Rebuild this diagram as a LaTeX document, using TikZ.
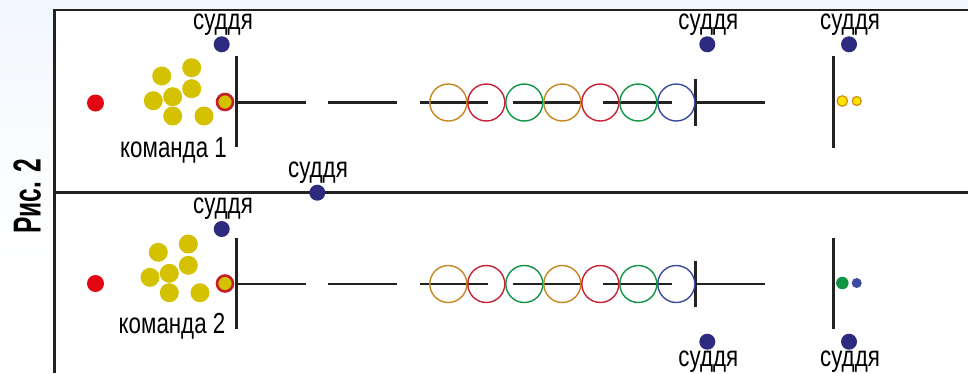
\documentclass[tikz,border=0pt]{standalone}
\usepackage{fontspec}
\setmainfont{Liberation Sans}
\newfontfamily\cond[FakeStretch=0.77]{Liberation Sans}
\newfontfamily\condb[FakeStretch=0.63]{Liberation Sans Bold}
\definecolor{judgec}{RGB}{46,42,128}
\definecolor{redd}{RGB}{227,6,19}
\definecolor{yel}{RGB}{212,193,0}
\definecolor{ringred}{RGB}{196,30,40}
\definecolor{horange}{RGB}{200,134,32}
\definecolor{hred}{RGB}{200,32,55}
\definecolor{hgreen}{RGB}{16,148,70}
\definecolor{hblue}{RGB}{60,74,160}
\definecolor{bright}{RGB}{255,228,0}
\definecolor{brightedge}{RGB}{210,140,0}
\definecolor{bgc}{RGB}{243,248,253}
\definecolor{ink}{RGB}{34,34,34}
\tikzset{
  frameline/.style={draw=ink, line width=2.8pt},
  track/.style={draw=ink, line width=2.7pt},
  judge/.style={circle, fill=judgec, minimum size=16pt, inner sep=0pt},
  player/.style={circle, fill=yel, minimum size=19pt, inner sep=0pt},
  reddot/.style={circle, fill=redd, minimum size=17pt, inner sep=0pt},
  ring/.style={circle, draw=ringred, line width=2.6pt, fill=yel, minimum size=16pt, inner sep=0pt},
  hoop/.style={circle, line width=1.4pt, minimum size=37pt, inner sep=0pt},
  lbl/.style={inner sep=0pt, anchor=base, font=\cond\fontsize{29}{29}\selectfont},
}
\begin{document}
\begin{tikzpicture}[x=1pt,y=-1pt]
\useasboundingbox (0,0) rectangle (968,373);
% background
\fill[bgc] (0,0) rectangle (968,10);
\shade[top color=bgc, bottom color=white] (0,10) rectangle (54,265);
% frame
\coordinate (ftl) at (54.5,10);
\coordinate (ftr) at (968,10);
\coordinate (fbl) at (54.5,373);
\coordinate (fml) at (54.5,192.5);
\coordinate (fmr) at (968,192.5);
\draw[frameline] (ftr) -- (ftl) -- (fbl);
\draw[frameline] (fml) -- (fmr);
% figure caption
\node[rotate=90, anchor=base, inner sep=0pt, font=\condb\fontsize{39}{39}\selectfont] (cap) at (40.5,196.5) {Рис. 2};
% rows
\foreach \row/\ty in {1/102.5,2/284}{
  \foreach \a/\b [count=\k] in {237/306,328/397,420/488,513/582,603/672,696/765}{
    \coordinate (d\row-\k a) at (\a,\ty);
    \coordinate (d\row-\k b) at (\b,\ty);
    \draw[track] (d\row-\k a) -- (d\row-\k b);
  }
  \coordinate (vl\row t) at (236.7,\ty-46.5);
  \coordinate (vl\row b) at (236.7,\ty+44.5);
  \draw[track] (vl\row t) -- (vl\row b);
  \coordinate (vm\row t) at (695.7,\ty-23.5);
  \coordinate (vm\row b) at (695.7,\ty+23.2);
  \draw[track] (vm\row t) -- (vm\row b);
  \coordinate (vr\row t) at (833.3,\ty-46.5);
  \coordinate (vr\row b) at (833.3,\ty+45);
  \draw[track] (vr\row t) -- (vr\row b);
  \foreach \i/\c in {0/horange,1/hred,2/hgreen,3/horange,4/hred,5/hgreen,6/hblue}{
    \node[hoop, draw=\c] (h\row-\i) at ({448.3+38*\i},\ty) {};
  }
  \node[reddot] (r\row) at (95.5,\ty+1.5-\row) {};
  \node[ring] (k\row) at (225,\ty-0.5) {};
}
% team 1
\node[player] (p1a) at (161.7,76) {};
\node[player] (p1b) at (191.7,67.7) {};
\node[player] (p1c) at (191.7,88.7) {};
\node[player] (p1d) at (153.3,100.7) {};
\node[player] (p1e) at (172.7,96.7) {};
\node[player] (p1f) at (172.7,116) {};
\node[player] (p1g) at (204,116) {};
\node[lbl] (t1) at (173.5,157) {команда 1};
% team 2
\node[player] (p2a) at (158.3,252.3) {};
\node[player] (p2b) at (188.3,244) {};
\node[player] (p2c) at (188.3,265.3) {};
\node[player] (p2d) at (150,277.3) {};
\node[player] (p2e) at (169.3,273.3) {};
\node[player] (p2f) at (169.3,292.7) {};
\node[player] (p2g) at (200,292.7) {};
\node[lbl] (t2) at (172,333) {команда 2};
% finish dots
\node[circle, fill=bright, draw=brightedge, line width=1.2pt, minimum size=10.5pt, inner sep=0pt] (f1a) at (842.3,101) {};
\node[circle, fill=bright, draw=brightedge, line width=1.2pt, minimum size=9pt, inner sep=0pt] (f1b) at (856.7,101) {};
\node[circle, fill=hgreen, minimum size=12.5pt, inner sep=0pt] (f2a) at (842.3,283) {};
\node[circle, fill=hblue, minimum size=10pt, inner sep=0pt] (f2b) at (856.7,283) {};
% judges
\node[judge] (j1) at (221.7,44.3) {};
\node[judge] (j2) at (707.3,44.3) {};
\node[judge] (j3) at (849,44.3) {};
\node[judge] (j4) at (317.3,192.7) {};
\node[judge] (j5) at (221.7,229) {};
\node[judge] (j6) at (707.3,341.7) {};
\node[judge] (j7) at (849,341.7) {};
\node[lbl] (l1) at (223,29) {суддя};
\node[lbl] (l2) at (708.3,29) {суддя};
\node[lbl] (l3) at (850,29) {суддя};
\node[lbl] (l4) at (318,177) {суддя};
\node[lbl] (l5) at (223,213) {суддя};
\node[lbl] (l6) at (708.3,366.5) {суддя};
\node[lbl] (l7) at (850,366.5) {суддя};
\end{tikzpicture}
\end{document}
